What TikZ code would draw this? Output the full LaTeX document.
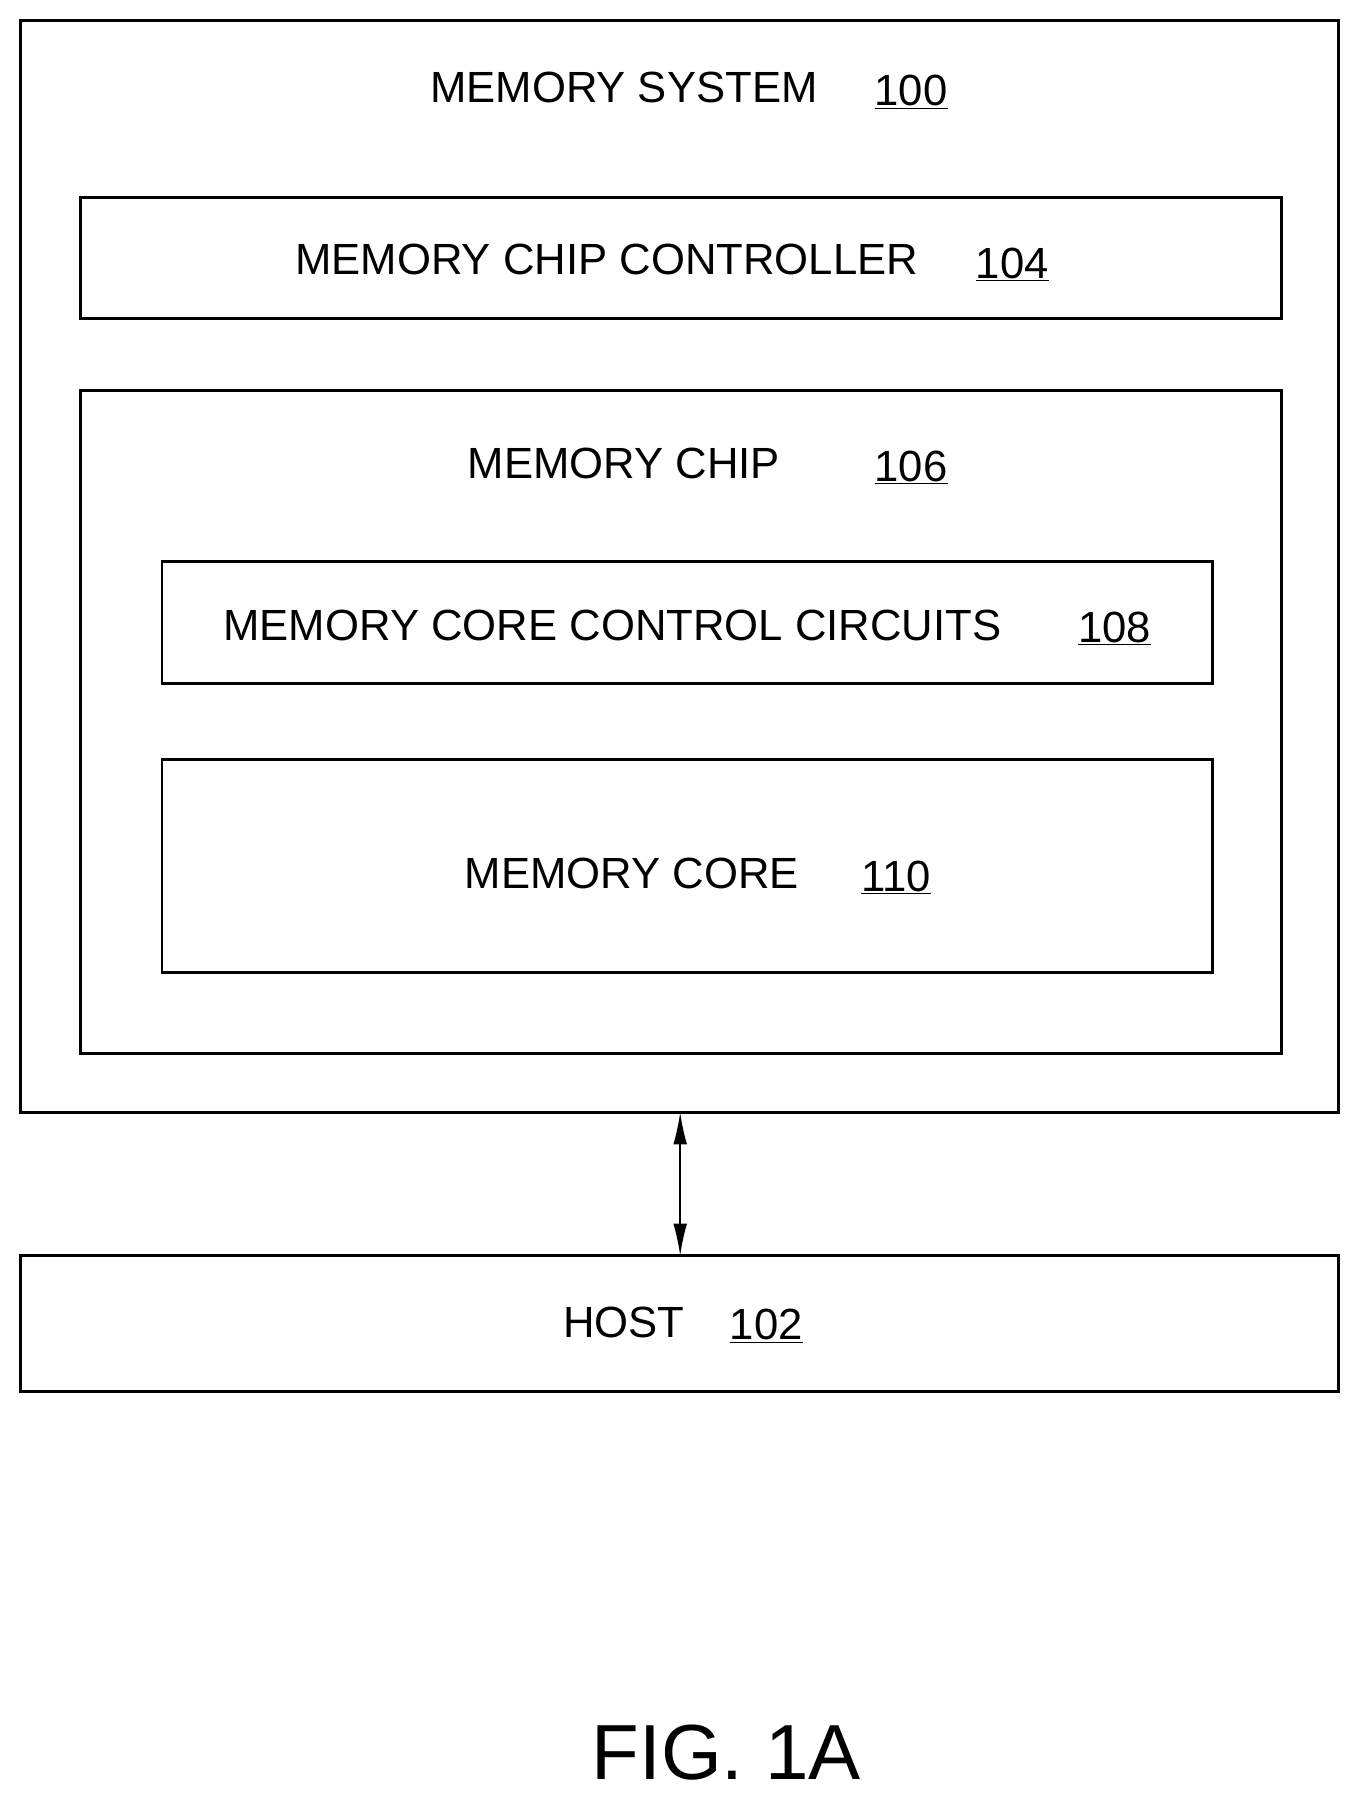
\documentclass[tikz,border=0pt]{standalone}
\usepackage{fontspec}
\setmainfont{Liberation Sans}
\usetikzlibrary{arrows.meta}
\begin{document}
\begin{tikzpicture}[x=1pt,y=-1pt,
  box/.style={draw,line width=2.6pt},
  lbl/.style={font=\fontsize{38}{40}\selectfont,inner sep=0pt},
  num/.style={font=\fontsize{38}{40}\selectfont,inner sep=0pt}]
\useasboundingbox (0,0) rectangle (1185,1571);
\newcommand{\un}[1]{\underline{#1}}
\draw[box] (18,18) rectangle (1165,968);
\node[lbl] (t100) at (543,76) {MEMORY SYSTEM};
\node[num] (n100) at (793,80) {\un{100}};
\draw[box] (70,172) rectangle (1115,277);
\node[lbl] (t104) at (528,226) {MEMORY CHIP CONTROLLER};
\node[num] (n104) at (881,230) {\un{104}};
\draw[box] (70,340) rectangle (1115,917);
\node[lbl] (t106) at (543,403) {MEMORY CHIP};
\node[num] (n106) at (793,407) {\un{106}};
\draw[box] (141,489) rectangle (1055,595);
\node[lbl] (t108) at (533,544) {MEMORY CORE CONTROL CIRCUITS};
\node[num] (n108) at (970,547) {\un{108}};
\draw[box] (141,661) rectangle (1055,846);
\node[lbl] (t110) at (550,760) {MEMORY CORE};
\node[num] (n110) at (780,764) {\un{110}};
\draw[box] (18,1093) rectangle (1165,1211);
\node[lbl] (t102) at (543,1151) {HOST};
\node[num] (n102) at (667,1154) {\un{102}};
\coordinate (a) at (592,968);
\coordinate (b) at (592,1093);
\draw[line width=1.5pt,{Latex[length=28pt,width=12pt]}-{Latex[length=28pt,width=12pt]}] (a) -- (b);
\node[inner sep=0pt,font=\fontsize{68}{70}\selectfont] (fig) at (632,1525) {FIG. 1A};
\end{tikzpicture}
\end{document}
